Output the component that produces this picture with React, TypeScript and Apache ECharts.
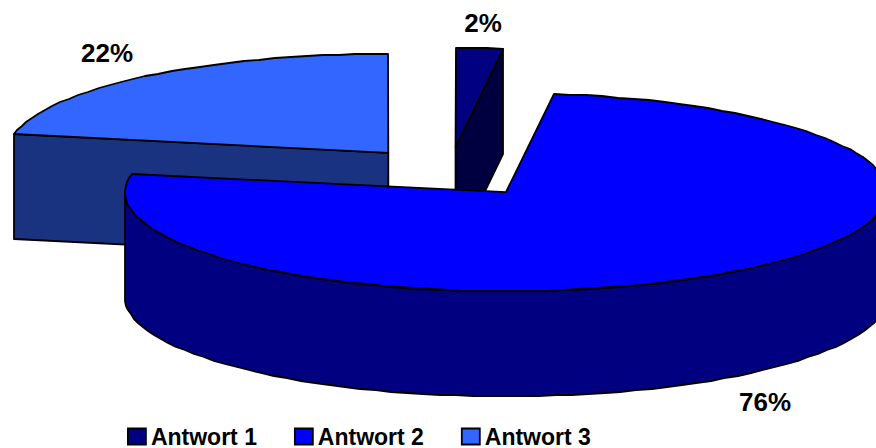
import React, { useEffect, useRef } from "react";
import * as echarts from "echarts";

const categories = ["Antwort 1", "Antwort 2", "Antwort 3"];
const shares = [2, 76, 22];

const topColors = ["#000080", "#0000FF", "#3366FF"];
const wallColors = ["#000080", "#000080", "#1A3380"];
const cutColors = ["#000040", "#000080", "#1A3380"];
const labelAnchors = [
  [483, 23],
  [765, 402],
  [107, 53],
];
const drawOrder = [2, 0, 1];

const PIE = { cx: 449.5, cy: 172, rx: 381, ry: 99, depth: 105, explode: 96, step: 2.5 };
const FONT = '"Liberation Sans", Arial, sans-serif';

const rad = (d: number) => (d * Math.PI) / 180;

function sliceAngles(index: number) {
  const total = shares.reduce((a, b) => a + b, 0);
  const before = shares.slice(0, index).reduce((a, b) => a + b, 0);
  return [(before / total) * 360, ((before + shares[index]) / total) * 360];
}

function renderSlice(index: number, value: number) {
  const [start, end] = sliceAngles(index);
  const mid = rad((start + end) / 2);
  const k = PIE.ry / PIE.rx;
  const cx = PIE.cx + PIE.explode * Math.sin(mid);
  const cy = PIE.cy - PIE.explode * k * Math.cos(mid);
  const rim = (a: number, dy = 0) => [
    Math.round(cx + PIE.rx * Math.sin(rad(a))),
    Math.round(cy - PIE.ry * Math.cos(rad(a)) + dy),
  ];
  const arc = (a0: number, a1: number, dy = 0) => {
    const pts: number[][] = [];
    const n = Math.max(1, Math.ceil((a1 - a0) / PIE.step));
    for (let i = 0; i <= n; i++) pts.push(rim(a0 + ((a1 - a0) * i) / n, dy));
    return pts;
  };
  const apex = [cx, cy];
  const apexLow = [cx, cy + PIE.depth];
  const stroke = { stroke: "#000", lineWidth: 1.8, lineJoin: "round" };
  const children: any[] = [];
  const poly = (points: number[][], fill: string) =>
    children.push({ type: "polygon", shape: { points }, style: { fill, ...stroke } });

  if (Math.sin(rad(start)) < -1e-6) {
    poly([apex, rim(start), rim(start, PIE.depth), apexLow], cutColors[index]);
  }
  if (Math.sin(rad(end)) > 1e-6) {
    poly([apex, rim(end), rim(end, PIE.depth), apexLow], cutColors[index]);
  }
  const w0 = Math.max(start, 90);
  const w1 = Math.min(end, 270);
  if (w1 > w0) {
    poly([...arc(w0, w1), ...arc(w0, w1, PIE.depth).reverse()], wallColors[index]);
  }
  poly([apex, ...arc(start, end)], topColors[index]);
  children.push({
    type: "text",
    x: labelAnchors[index][0],
    y: labelAnchors[index][1],
    style: {
      text: `${value}%`,
      fill: "#000",
      font: `bold 26px ${FONT}`,
      align: "center",
      verticalAlign: "middle",
    },
  });
  return { type: "group", children };
}

export default function App() {
  const ref = useRef<HTMLDivElement>(null);
  useEffect(() => {
    document.body.style.margin = "0";
    const chart = echarts.init(ref.current!, null, { renderer: "svg" });
    chart.setOption({
      animation: false,
      backgroundColor: "#fff",
      legend: {
        data: categories,
        left: 127,
        top: 425,
        padding: 0,
        orient: "horizontal",
        icon: "rect",
        itemWidth: 18,
        itemHeight: 16,
        itemGap: 37,
        selectedMode: false,
        itemStyle: { borderColor: "#000", borderWidth: 1.8 },
        textStyle: { fontFamily: FONT, fontWeight: "bold", fontSize: 23, color: "#000", padding: [0, 0, 0, 0] },
      },
      series: categories.map((name, i) => ({
        type: "custom",
        name,
        coordinateSystem: "none",
        z: 2 + drawOrder.indexOf(i),
        itemStyle: { color: topColors[i] },
        data: [[shares[i]]],
        renderItem: (_p: any, api: any) => renderSlice(i, api.value(0)),
      })),
    });
    return () => chart.dispose();
  }, []);
  return <div ref={ref} style={{ width: 876, height: 448 }} />;
}
